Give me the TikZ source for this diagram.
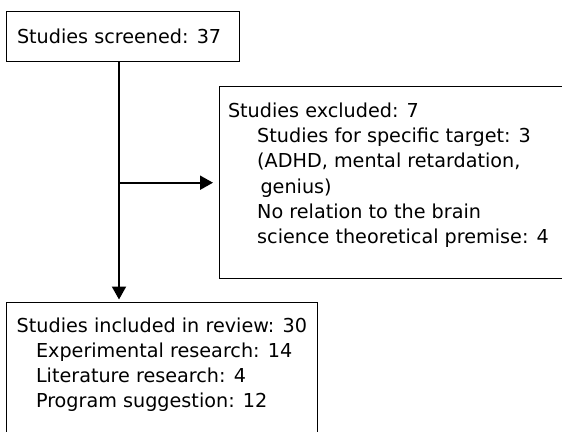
\documentclass[tikz,border=0pt]{standalone}
\usepackage{fontspec}
\setmainfont{DejaVu Sans}
\usetikzlibrary{arrows.meta}
\begin{document}
\begin{tikzpicture}[x=1bp,y=-1bp,
  box/.style={draw, line width=1bp, inner sep=0pt, outer sep=0pt, rectangle},
  txt/.style={anchor=base west, inner sep=0pt, outer sep=0pt, font=\fontsize{19.2bp}{25.3bp}\selectfont},
  conn/.style={line width=2bp, -{Triangle[length=13bp,width=14bp]}}]
\useasboundingbox (0,0) rectangle (562,431);
\clip (0,0) rectangle (562,431);
% boxes
\node[box, minimum width=233bp, minimum height=50.5bp, anchor=north west] (screened) at (6,11) {};
\node[box, minimum width=400bp, minimum height=192bp, anchor=north west] (excluded) at (219,86) {};
\node[box, minimum width=311bp, minimum height=160bp, anchor=north west] (included) at (6,302.5) {};
% texts
\node[txt] (s1) at (17,43) {Studies screened: 37};
\node[txt] (e1) at (228,117.2) {Studies excluded: 7};
\node[txt] (e2) at (257.2,142.5) {Studies for specific target: 3};
\node[txt] (e3) at (257.2,167.8) {(ADHD, mental retardation,};
\node[txt] (e4) at (260.5,193.1) {genius)};
\node[txt] (e5) at (257.2,218.4) {No relation to the brain};
\node[txt] (e6) at (257.2,243.7) {science theoretical premise: 4};
\node[txt] (i1) at (16.7,332) {Studies included in review: 30};
\node[txt] (i2) at (36,357) {Experimental research: 14};
\node[txt] (i3) at (36,382) {Literature research: 4};
\node[txt] (i4) at (36,407) {Program suggestion: 12};
% connectors
\coordinate (v) at (119,61.5);
\coordinate (h) at (119,182.7);
\draw[conn, shorten >=3bp] (v) -- (v |- included.north);
\draw[conn, shorten >=6bp] (h) -- (h -| excluded.west);
\end{tikzpicture}
\end{document}
